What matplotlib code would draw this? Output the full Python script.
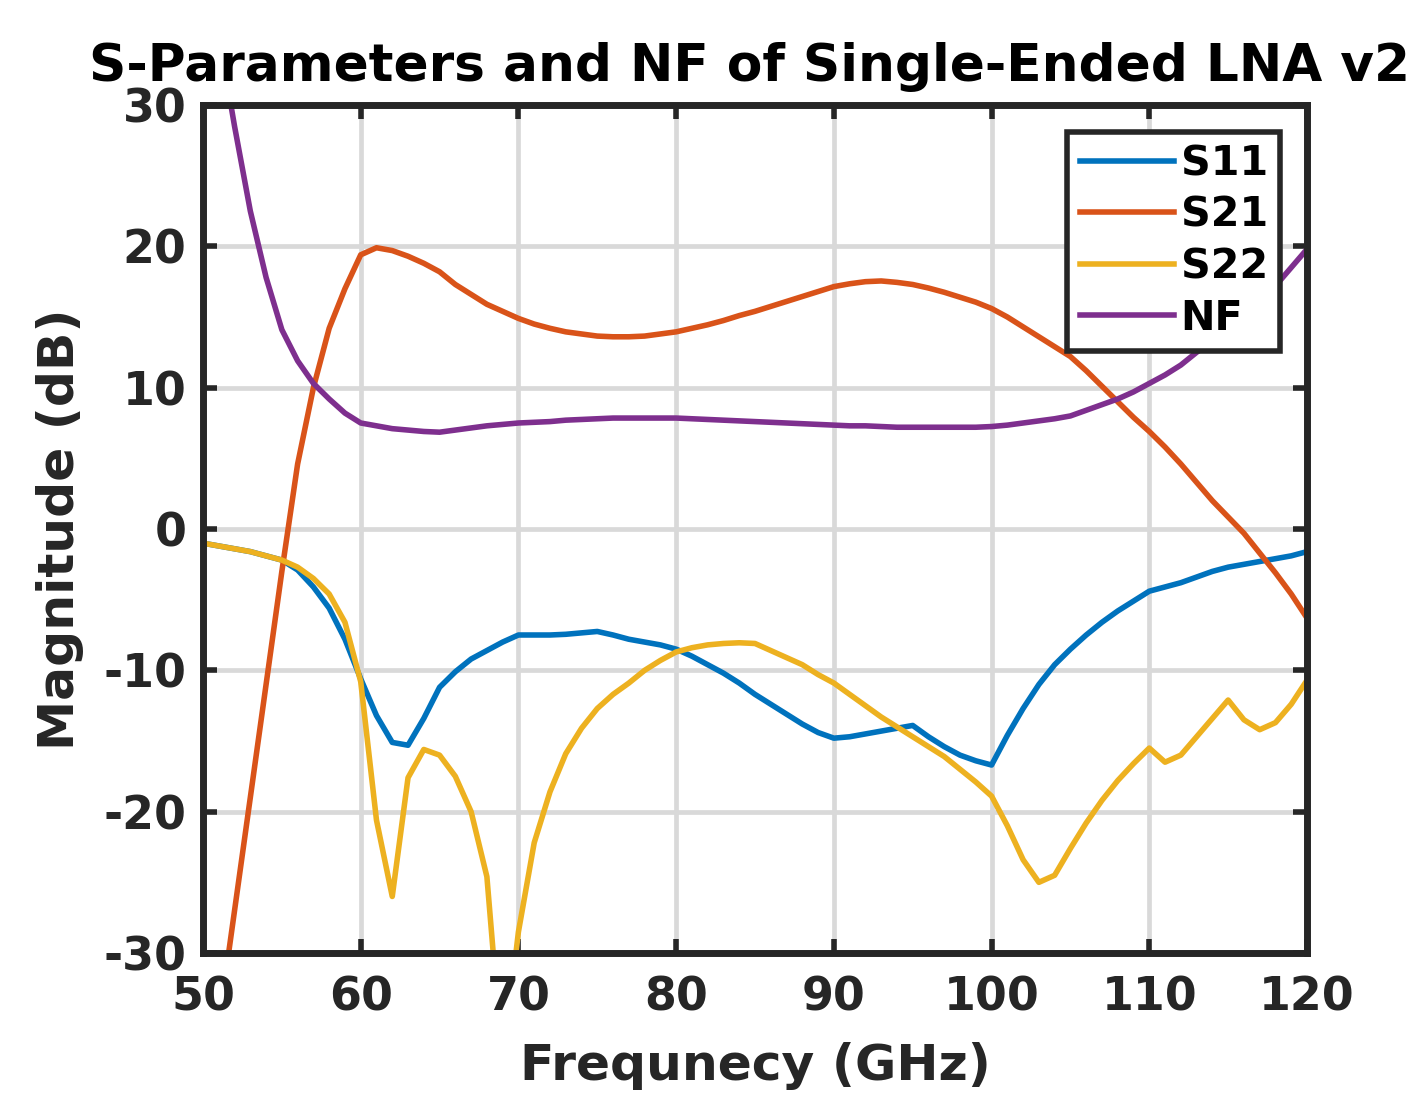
import numpy as np
import matplotlib
matplotlib.use('Agg')
import matplotlib.pyplot as plt

plt.rc('font', family='DejaVu Sans', weight='bold')
plt.rcParams['axes.unicode_minus'] = False

# frequency grid (GHz)
freq = np.arange(50, 121, 1)

s11 = [-1.0, -1.2, -1.4, -1.6, -1.9, -2.2, -2.9, -4.1, -5.6, -7.8,
       -10.6, -13.2, -15.1, -15.3, -13.4, -11.2, -10.1, -9.2, -8.6, -8.0,
       -7.5, -7.5, -7.5, -7.45, -7.35, -7.25, -7.5, -7.8, -8.0, -8.2,
       -8.5, -9.0, -9.6, -10.2, -10.9, -11.7, -12.4, -13.1, -13.8, -14.4,
       -14.8, -14.7, -14.5, -14.3, -14.1, -13.9, -14.7, -15.4, -16.0, -16.4,
       -16.7, -14.6, -12.7, -11.0, -9.6, -8.5, -7.5, -6.6, -5.8, -5.1,
       -4.4, -4.1, -3.8, -3.4, -3.0, -2.7, -2.5, -2.3, -2.1, -1.9,
       -1.6]

s21 = [-43, -35, -27, -19, -11, -3, 4.6, 10.0, 14.2, 17.0,
       19.4, 19.9, 19.7, 19.3, 18.8, 18.2, 17.3, 16.6, 15.9, 15.4,
       14.9, 14.5, 14.2, 13.95, 13.8, 13.65, 13.6, 13.6, 13.65, 13.8,
       13.95, 14.2, 14.45, 14.75, 15.1, 15.4, 15.75, 16.1, 16.45, 16.8,
       17.15, 17.35, 17.5, 17.55, 17.45, 17.3, 17.05, 16.75, 16.4, 16.05,
       15.6, 15.0, 14.3, 13.6, 12.9, 12.2, 11.2, 10.1, 9.0, 7.9,
       6.9, 5.8, 4.6, 3.3, 2.0, 0.85, -0.3, -1.7, -3.1, -4.6,
       -6.3]

s22 = [-1.0, -1.2, -1.4, -1.6, -1.9, -2.2, -2.7, -3.5, -4.6, -6.6,
       -10.8, -20.6, -26.0, -17.6, -15.6, -16.0, -17.5, -20.0, -24.6, -38.0,
       -28.5, -22.2, -18.6, -15.9, -14.1, -12.7, -11.7, -10.9, -10.0, -9.3,
       -8.7, -8.4, -8.2, -8.1, -8.05, -8.1, -8.6, -9.1, -9.6, -10.3,
       -10.9, -11.7, -12.5, -13.3, -14.0, -14.7, -15.4, -16.1, -17.0, -17.9,
       -18.9, -21.0, -23.4, -25.0, -24.5, -22.6, -20.8, -19.2, -17.8, -16.6,
       -15.5, -16.5, -16.0, -14.7, -13.4, -12.1, -13.5, -14.2, -13.7, -12.4,
       -10.7]

nf = [42, 35, 28.5, 22.5, 17.8, 14.1, 11.9, 10.3, 9.2, 8.2,
      7.5, 7.3, 7.1, 7.0, 6.9, 6.85, 7.0, 7.15, 7.3, 7.4,
      7.5, 7.55, 7.6, 7.7, 7.75, 7.8, 7.85, 7.85, 7.85, 7.85,
      7.85, 7.8, 7.75, 7.7, 7.65, 7.6, 7.55, 7.5, 7.45, 7.4,
      7.35, 7.3, 7.3, 7.25, 7.2, 7.2, 7.2, 7.2, 7.2, 7.2,
      7.25, 7.35, 7.5, 7.65, 7.8, 8.0, 8.4, 8.8, 9.2, 9.7,
      10.3, 10.9, 11.6, 12.5, 13.3, 14.1, 15.0, 16.1, 17.2, 18.5,
      19.8]

labels = ['S11', 'S21', 'S22', 'NF']
colors = ['#0072BD', '#D95319', '#EDB120', '#7E2F8E']
xticks = range(50, 121, 10)
yticks = range(-30, 31, 10)

dark = '#262626'
fs = 33

fig = plt.figure(figsize=(14.15, 10.97), dpi=100)
ax = fig.add_axes([203/1415, 1-953/1097, (1307-203)/1415, (953-105)/1097])

for y, lab, c in zip([s11, s21, s22, nf], labels, colors):
    ax.plot(freq, y, color=c, linewidth=4.0, label=lab)

ax.set_xlim(50, 120)
ax.set_ylim(-30, 30)
ax.set_xticks(xticks)
ax.set_yticks(yticks)
ax.grid(True, color='#d9d9d9', linewidth=3.4)
ax.set_axisbelow(True)

ax.tick_params(axis='both', which='major', direction='in', length=10, width=4,
               colors=dark, labelsize=fs, top=True, right=True)
ax.tick_params(axis='x', pad=16)
ax.tick_params(axis='y', pad=12)
for s in ax.spines.values():
    s.set_linewidth(5)
    s.set_color(dark)

ax.set_xlabel('Frequnecy (GHz)', fontsize=36.3, fontweight='bold',
              color=dark, labelpad=16)
ax.set_ylabel('Magnitude (dB)', fontsize=36.3, fontweight='bold',
              color=dark, labelpad=14)
ax.set_title('S-Parameters and NF of Single-Ended LNA v2', fontsize=37.3,
             fontweight='bold', color='black', pad=17, x=0.495)

leg = ax.legend(loc='upper right', fontsize=29.7, handlelength=2.3,
                handletextpad=0.15, labelspacing=0.28, borderpad=0.3,
                borderaxespad=0.65, fancybox=False, framealpha=1)
leg.get_frame().set_edgecolor(dark)
leg.get_frame().set_linewidth(4)
for t in leg.get_texts():
    t.set_color('black')

fig.savefig('out.png', dpi=100)
